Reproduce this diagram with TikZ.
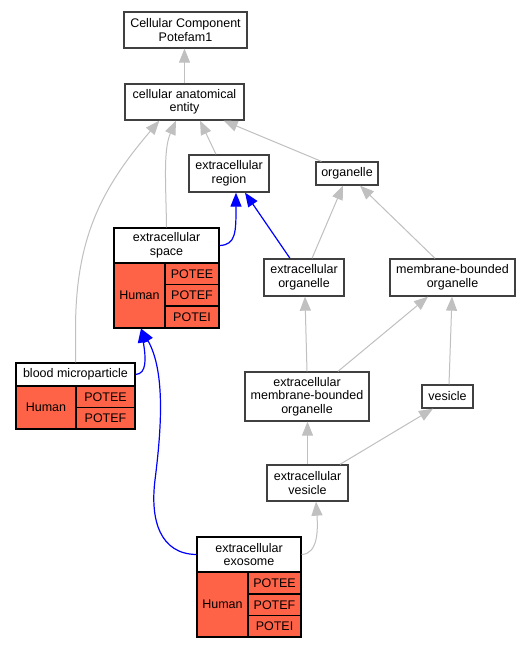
\documentclass[tikz,border=0pt]{standalone}
\usepackage{fontspec}
\setmainfont{Liberation Sans}
\usetikzlibrary{arrows.meta}
\definecolor{tomatoc}{HTML}{FF6347}
\definecolor{edgegray}{HTML}{C0C0C0}
\begin{document}
\begin{tikzpicture}[x=1pt,y=-1pt,
  every node/.style={font=\fontsize{12.5}{13.5}\selectfont, inner sep=0pt, align=center},
  term/.style={draw=black!75, line width=1.3pt, fill=white},
  hdr/.style={draw=black, line width=1.1pt, fill=white},
  cell/.style={draw=black, line width=1.1pt, fill=tomatoc},
  isa/.style={draw=edgegray, line width=1pt, -{Triangle[length=14pt,width=11pt]}},
  partof/.style={draw=blue, line width=1.2pt, -{Triangle[length=14pt,width=11pt]}}]
\useasboundingbox (0,0) rectangle (529,648);
\fill[white] (0,0) rectangle (529,648);

% plain terms
\node[term, minimum width=123pt, minimum height=36pt] (cc) at (185.5,30) {Cellular Component\\Potefam1};
\node[term, minimum width=119pt, minimum height=36pt] (cae) at (184.5,102) {cellular anatomical\\entity};
\node[term, minimum width=80pt, minimum height=37pt] (er) at (229,173.5) {extracellular\\region};
\node[term, minimum width=62pt, minimum height=23pt] (org) at (347,173.5) {organelle};
\node[term, minimum width=80pt, minimum height=37pt] (eo) at (304,277.5) {extracellular\\organelle};
\node[term, minimum width=125pt, minimum height=37pt] (mbo) at (452.5,277.5) {membrane-bounded\\organelle};
\node[term, minimum width=124pt, minimum height=49pt] (embo) at (307,396.5) {extracellular\\membrane-bounded\\organelle};
\node[term, minimum width=51pt, minimum height=23pt] (ves) at (447.5,396.5) {vesicle};
\node[term, minimum width=81pt, minimum height=36pt] (ev) at (307.5,483) {extracellular\\vesicle};

% extracellular space table
\node[hdr, minimum width=105pt, minimum height=35pt] (es) at (166.5,245.5) {extracellular\\space};
\node[cell, minimum width=51pt, minimum height=65pt] (esh) at (139.5,295.5) {Human};
\node[cell, minimum width=54pt, minimum height=21.5pt] (es1) at (192,273.75) {POTEE};
\node[cell, minimum width=54pt, minimum height=21.5pt] (es2) at (192,295.25) {POTEF};
\node[cell, minimum width=54pt, minimum height=22pt] (es3) at (192,317) {POTEI};

% blood microparticle table
\node[hdr, minimum width=119pt, minimum height=23pt] (bm) at (75.5,374.5) {blood microparticle};
\node[cell, minimum width=60pt, minimum height=43pt] (bmh) at (46,407.5) {Human};
\node[cell, minimum width=59pt, minimum height=21.5pt] (bm1) at (105.5,396.75) {POTEE};
\node[cell, minimum width=59pt, minimum height=21.5pt] (bm2) at (105.5,418.25) {POTEF};

% extracellular exosome table
\node[hdr, minimum width=104pt, minimum height=35pt] (exo) at (249,554.5) {extracellular\\exosome};
\node[cell, minimum width=51pt, minimum height=65pt] (exoh) at (222.5,604.5) {Human};
\node[cell, minimum width=53pt, minimum height=22pt] (exo1) at (274.5,583) {POTEE};
\node[cell, minimum width=53pt, minimum height=21.5pt] (exo2) at (274.5,604.75) {POTEF};
\node[cell, minimum width=53pt, minimum height=21.5pt] (exo3) at (274.5,626.25) {POTEI};

% gray is_a edges
\draw[isa] (cae.north) -- (cae.north |- cc.south);
\draw[isa] ([xshift=-13pt]er.north) -- ([xshift=15.5pt]cae.south);
\draw[isa] ([xshift=6pt]org.north west) -- ([xshift=-21pt]cae.south east);
\draw[isa] (es.north) .. controls (166,185) and (163,150) .. ([xshift=-8.5pt]cae.south);
\draw[isa] (bm.north) -- (75.5,330) .. controls (75.5,240) and (100,190) .. ([xshift=35pt]cae.south west);
\draw[isa] ([xshift=8pt]eo.north) -- ([xshift=-4pt]org.south);
\draw[isa] ([xshift=-17.5pt]mbo.north) -- ([xshift=13pt]org.south);
\draw[isa] (embo.north) -- ([xshift=1pt]eo.south);
\draw[isa] ([xshift=31pt]embo.north) -- ([xshift=-24.5pt]mbo.south);
\draw[isa] ([xshift=1.5pt]ves.north) -- ([xshift=-0.5pt]mbo.south);
\draw[isa] (ev.north) -- ([xshift=0.5pt]embo.south);
\draw[isa] ([xshift=32.5pt]ev.north) -- ([xshift=-14.5pt]ves.south);
\draw[isa] (exo.east) .. controls (318,554) and (318,530) .. ([xshift=8.5pt]ev.south);

% blue part_of edges
\draw[partof] (es.east) .. controls (236,245) and (236,232) .. ([xshift=7pt]er.south);
\draw[partof] ([xshift=-14pt]eo.north) -- ([xshift=16pt]er.south);
\draw[partof] (bm.east) .. controls (147,374) and (146,358) .. ([xshift=1.5pt]esh.south);
\draw[partof] (exo.west) .. controls (160,554) and (150,520) .. (155,480)
  .. controls (161,432) and (166,372) .. ([xshift=1.5pt]esh.south);
\end{tikzpicture}
\end{document}
